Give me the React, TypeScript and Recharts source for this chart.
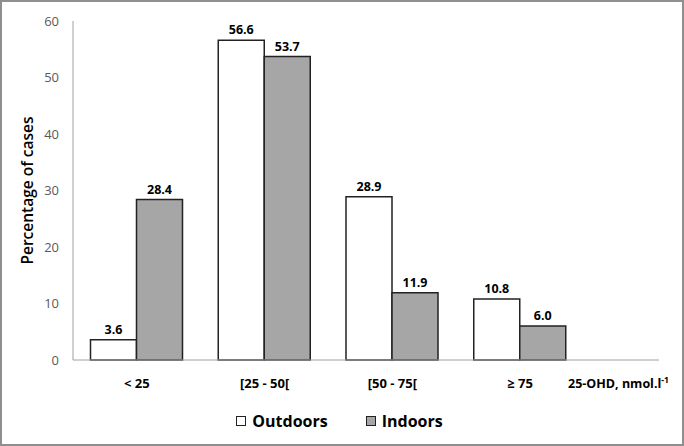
import { BarChart, Bar, XAxis, YAxis, LabelList, Legend, Label } from 'recharts';

const categories = ['< 25', '[25 - 50[', '[50 - 75[', '≥ 75'];
const outdoors = [3.6, 56.6, 28.9, 10.8];
const indoors = [28.4, 53.7, 11.9, 6.0];
const yTicks = [0, 10, 20, 30, 40, 50, 60];

const data = categories.map((c, i) => ({ cat: c, outdoors: outdoors[i], indoors: indoors[i] }));

const FONT = '"Open Sans", "Liberation Sans", sans-serif';
const GRAY = '#a6a6a6';

function LegendBox() {
  const item = (fill: string, text: string) => (
    <div style={{ display: 'flex', alignItems: 'center', gap: 6 }}>
      <span style={{ width: 8, height: 8, background: fill, border: '1px solid #222', display: 'inline-block' }} />
      <span style={{ fontWeight: 700, fontSize: 16, color: '#000' }}>{text}</span>
    </div>
  );
  return (
    <div style={{ height: 30, display: 'flex', justifyContent: 'center', alignItems: 'center', gap: 38, fontFamily: FONT }}>
      {item('#fff', 'Outdoors')}
      {item(GRAY, 'Indoors')}
    </div>
  );
}

function AxisName(props: any) {
  const { x, y, width } = props.viewBox;
  return (
    <text x={x + width - 91} y={y + 28} fontFamily={FONT} fontSize={12.5} fontWeight={700} fill="#000">
      25-OHD, nmol.l
      <tspan dy={-5} fontSize={8.5}>-1</tspan>
    </text>
  );
}

export default function App() {
  return (
    <div
      style={{
        position: 'absolute',
        left: 0,
        top: 0,
        width: 684,
        height: 446,
        boxSizing: 'border-box',
        border: '2px solid #8f8f8f',
        background: '#fff',
      }}
    >
      <div style={{ position: 'absolute', left: -2, top: -2 }}>
        <BarChart
          width={684}
          height={446}
          data={data}
          margin={{ top: 21, right: 25, left: 20, bottom: 10 }}
          barGap={0}
          barCategoryGap="13.7%"
        >
          <XAxis
            dataKey="cat"
            height={46}
            padding={{ left: 0, right: 75 }}
            stroke="#a0a0a0"
            tickLine={false}
            tickMargin={13}
            tick={{ fill: '#000', fontSize: 13, fontWeight: 700, fontFamily: FONT }}
          >
            <Label content={AxisName} />
          </XAxis>
          <YAxis
            width={53}
            domain={[0, 60]}
            ticks={yTicks}
            stroke="#a0a0a0"
            tickLine={false}
            tickMargin={8}
            tick={{ fill: '#595959', fontSize: 13, fontFamily: FONT }}
          >
            <Label
              value="Percentage of cases"
              angle={-90}
              position="insideLeft"
              offset={7}
              style={{ textAnchor: 'middle', fill: '#000', fontSize: 15.5, fontWeight: 600, fontFamily: FONT }}
            />
          </YAxis>
          <Legend verticalAlign="bottom" content={() => <LegendBox />} />
          <Bar dataKey="outdoors" name="Outdoors" fill="#fff" stroke="#222" strokeWidth={1.5} isAnimationActive={false}>
            <LabelList dataKey="outdoors" position="top" offset={6} formatter={(v: any) => Number(v).toFixed(1)} style={{ fill: '#000', fontSize: 12.5, fontWeight: 700, fontFamily: FONT }} />
          </Bar>
          <Bar dataKey="indoors" name="Indoors" fill={GRAY} stroke="#222" strokeWidth={1.5} isAnimationActive={false}>
            <LabelList dataKey="indoors" position="top" offset={6} formatter={(v: any) => Number(v).toFixed(1)} style={{ fill: '#000', fontSize: 12.5, fontWeight: 700, fontFamily: FONT }} />
          </Bar>
        </BarChart>
      </div>
    </div>
  );
}
